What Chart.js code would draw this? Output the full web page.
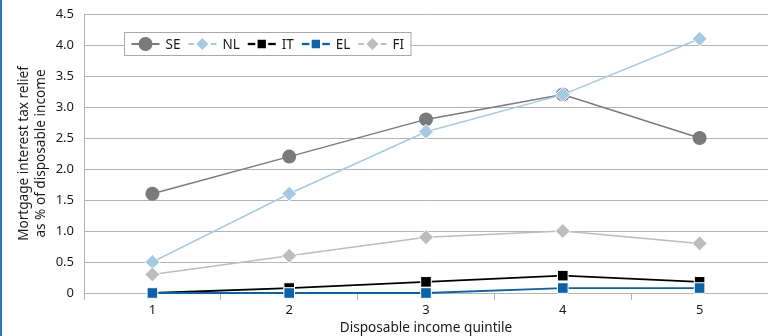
<!DOCTYPE html>
<html>
<head>
<meta charset="utf-8">
<script src="https://cdn.jsdelivr.net/npm/chart.js@4"></script>
<style>
  html, body { margin: 0; padding: 0; background: #fff; }
  #wrap { position: relative; width: 768px; height: 336px; }
  canvas { display: block; }
</style>
</head>
<body>
<div id="wrap"><canvas id="chart" width="768" height="336"></canvas></div>
<script>
// Mortgage interest tax relief by disposable income quintile

const quintiles = ['1', '2', '3', '4', '5'];
const seriesNames = ['SE', 'NL', 'IT', 'EL', 'FI'];

const seValues = [1.6, 2.2, 2.8, 3.2, 2.5];
const nlValues = [0.5, 1.6, 2.6, 3.2, 4.1];
const itValues = [0.0, 0.08, 0.18, 0.28, 0.18];
const elValues = [0.0, 0.0, 0.0, 0.08, 0.08];
const fiValues = [0.3, 0.6, 0.9, 1.0, 0.8];

const yTicks = [0, 0.5, 1.0, 1.5, 2.0, 2.5, 3.0, 3.5, 4.0, 4.5];

const FONT = '"Noto Sans", "DejaVu Sans", sans-serif';
const TEXT = '#1a1a1a';
const GRID = '#b4b4b4';

const styles = {
    SE: { color: '#7a7a7a', pointStyle: 'circle', radius: 7, width: 1.5 },
    NL: { color: '#a7cae4', pointStyle: 'rectRot', radius: 7.5, width: 1.5 },
    IT: { color: '#000000', pointStyle: 'rect', radius: 7.5, width: 1.8 },
    EL: { color: '#0b62a8', pointStyle: 'rect', radius: 7.5, width: 1.8 },
    FI: { color: '#bdbdbd', pointStyle: 'rectRot', radius: 7.5, width: 1.5 }
};

const valuesByName = { SE: seValues, NL: nlValues, IT: itValues, EL: elValues, FI: fiValues };

function makeDataset(name, idx) {
    const s = styles[name];
    return {
        label: name,
        data: valuesByName[name],
        borderColor: s.color,
        backgroundColor: s.color,
        borderWidth: s.width,
        pointStyle: s.pointStyle,
        pointRadius: s.radius,
        pointHoverRadius: s.radius,
        pointBackgroundColor: s.color,
        pointBorderColor: name === 'SE' ? s.color : '#ffffff',
        pointBorderWidth: name === 'SE' ? 0 : 1,
        tension: 0,
        clip: false,
        order: seriesNames.length - idx // later series drawn on top
    };
}

// Boxed legend drawn inside the plot, "line-marker-line" style
const boxLegend = {
    id: 'boxLegend',
    afterDraw(chart) {
        const ctx = chart.ctx;
        ctx.save();
        ctx.font = '13.5px ' + FONT;
        const symW = 28, gapText = 6, gapItem = 8, padX = 7;
        let total = padX * 2;
        seriesNames.forEach((n, i) => {
            total += symW + gapText + ctx.measureText(n).width + (i < seriesNames.length - 1 ? gapItem : 0);
        });
        const bx = 124.5, by = 32.5, bh = 23;
        ctx.fillStyle = '#ffffff';
        ctx.fillRect(bx, by, total, bh);
        ctx.strokeStyle = '#a9a9a9';
        ctx.lineWidth = 1;
        ctx.strokeRect(bx, by, total, bh);

        let x = bx + padX;
        const cy = by + bh / 2;
        seriesNames.forEach(n => {
            const s = styles[n];
            ctx.strokeStyle = s.color;
            ctx.lineWidth = s.width + 0.5;
            ctx.beginPath();
            ctx.moveTo(x, cy);
            ctx.lineTo(x + symW, cy);
            ctx.stroke();
            ctx.fillStyle = s.color;
            ctx.strokeStyle = n === 'SE' ? s.color : '#ffffff';
            Chart.helpers.drawPoint(ctx, {
                pointStyle: s.pointStyle,
                radius: s.radius,
                rotation: 0,
                borderWidth: n === 'SE' ? 0 : 1
            }, x + symW / 2, cy);
            ctx.fillStyle = TEXT;
            ctx.textBaseline = 'middle';
            ctx.textAlign = 'left';
            ctx.fillText(n, x + symW + gapText, cy + 1);
            x += symW + gapText + ctx.measureText(n).width + gapItem;
        });
        // blue frame line on the left edge
        ctx.fillStyle = '#2f76b6';
        ctx.fillRect(0, 0, 2, chart.height);
        ctx.restore();
    }
};

new Chart(document.getElementById('chart').getContext('2d'), {
    type: 'line',
    data: {
        labels: quintiles,
        datasets: seriesNames.map(makeDataset)
    },
    options: {
        responsive: false,
        animation: false,
        events: [],
        layout: { autoPadding: false, padding: { top: 14, right: 0, left: 0, bottom: 0 } },
        plugins: {
            legend: { display: false },
            tooltip: { enabled: false }
        },
        scales: {
            x: {
                type: 'category',
                offset: true,
                grid: {
                    offset: true,
                    drawOnChartArea: false,
                    drawTicks: true,
                    tickLength: 7,
                    color: GRID
                },
                border: { color: GRID, width: 1 },
                ticks: { color: TEXT, font: { family: FONT, size: 13 }, padding: 2 },
                title: {
                    display: true,
                    text: 'Disposable income quintile',
                    color: TEXT,
                    font: { family: FONT, size: 13.6 },
                    padding: { top: 0, bottom: 0 }
                },
                afterFit(scale) {
                    scale.height = 43;
                    scale.paddingLeft = 0;
                    scale.paddingRight = 0;
                }
            },
            y: {
                min: 0,
                max: 4.5,
                afterBuildTicks(scale) { scale.ticks = yTicks.map(v => ({ value: v })); },
                grid: { color: GRID, drawTicks: false, lineWidth: 1 },
                border: { color: GRID, width: 1 },
                ticks: {
                    color: TEXT,
                    font: { family: FONT, size: 13 },
                    padding: 10,
                    callback: v => (v === 0 ? '0' : v.toFixed(1))
                },
                title: {
                    display: true,
                    text: ['Mortgage interest tax relief', 'as % of disposable income'],
                    color: TEXT,
                    font: { family: FONT, size: 13.6, lineHeight: 1.3 },
                    padding: { top: 15, bottom: 0 }
                },
                afterFit(scale) {
                    scale.width = 84;
                    scale.paddingTop = 0;
                    scale.paddingBottom = 0;
                }
            }
        }
    },
    plugins: [boxLegend]
});
</script>
</body>
</html>
